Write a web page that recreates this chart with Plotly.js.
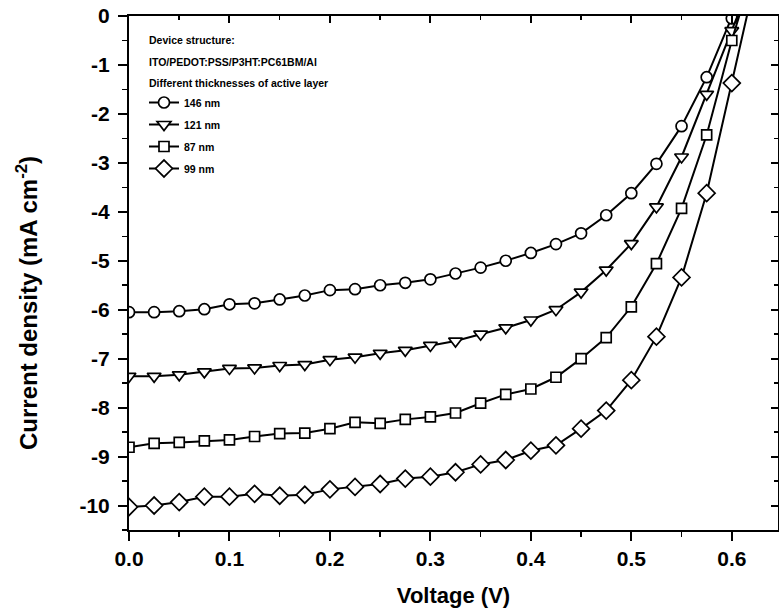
<!DOCTYPE html>
<html>
<head>
<meta charset="utf-8">
<script src="https://cdn.plot.ly/plotly-3.0.1.min.js"></script>
<style>html,body{margin:0;padding:0;background:#fff;}#chart{width:779px;height:614px;}</style>
</head>
<body>
<div id="chart"></div>
<script>
// Voltage (V)
const voltage = [0, 0.025, 0.05, 0.075, 0.1, 0.125, 0.15, 0.175, 0.2, 0.225, 0.25, 0.275, 0.3,
                 0.325, 0.35, 0.375, 0.4, 0.425, 0.45, 0.475, 0.5, 0.525, 0.55, 0.575, 0.6, 0.625];
// Current density (mA cm^-2)
const j146 = [-6.05, -6.05, -6.03, -5.99, -5.89, -5.87, -5.79, -5.71, -5.60, -5.58, -5.50, -5.45, -5.38,
              -5.26, -5.14, -5.00, -4.84, -4.66, -4.44, -4.07, -3.62, -3.02, -2.25, -1.25, -0.05, 1.2];
const j121 = [-7.36, -7.36, -7.33, -7.27, -7.20, -7.19, -7.14, -7.12, -7.02, -6.97, -6.89, -6.83, -6.73,
              -6.64, -6.50, -6.37, -6.21, -6.00, -5.64, -5.19, -4.65, -3.90, -2.88, -1.60, -0.30, 1.0];
const j87  = [-8.81, -8.73, -8.71, -8.68, -8.66, -8.59, -8.53, -8.52, -8.43, -8.30, -8.32, -8.24, -8.19,
              -8.11, -7.91, -7.73, -7.62, -7.38, -7.00, -6.57, -5.94, -5.06, -3.93, -2.43, -0.50, 1.2];
const j99  = [-10.03, -10.00, -9.93, -9.82, -9.82, -9.76, -9.80, -9.78, -9.67, -9.62, -9.56, -9.45, -9.41,
              -9.32, -9.16, -9.07, -8.88, -8.77, -8.43, -8.06, -7.44, -6.55, -5.34, -3.62, -1.37, 0.9];

const seriesNames = ["146 nm", "121 nm", "87 nm", "99 nm"];
const yTickVals = [0, -1, -2, -3, -4, -5, -6, -7, -8, -9, -10];
const yTickText = ["0", "-1", "-2", "-3", "-4", "-5", "-6", "-7", "-8", "-9", "-10"];
const xTickVals = [0, 0.1, 0.2, 0.3, 0.4, 0.5, 0.6];
const xTickText = ["0.0", "0.1", "0.2", "0.3", "0.4", "0.5", "0.6"];
const headerLines = ["Device structure:", "ITO/PEDOT:PSS/P3HT:PC61BM/Al", "Different thicknesses of active layer"];

const FONT = "Liberation Sans, Arial, Helvetica, sans-serif";
const symbols = ["circle", "triangle-down", "square", "diamond"];
const sizes = [11, 12, 10, 13];
const ys = [j146, j121, j87, j99];

const traces = ys.map((y, i) => ({
  x: voltage, y: y, name: seriesNames[i], type: "scatter", mode: "lines+markers",
  legendgroup: "g" + i,
  line: {color: "#000", width: 2},
  marker: {symbol: symbols[i], size: sizes[i], color: "#fff",
           line: {color: "#000", width: 1.7}}
}));
// empty trace that only makes the mirrored frame axes (top / right) exist
traces.push({x: [], y: [], xaxis: "x2", yaxis: "y2", type: "scatter", mode: "markers",
             showlegend: false, hoverinfo: "skip"});

const W = 779, H = 614, L = 129, R = 1, T = 16, B = 84;
const pw = W - L - R, ph = H - T - B;
const px2paperX = px => (px - L) / pw;
const px2paperY = py => 1 - (py - T) / ph;

const annotations = headerLines.map((t, i) => ({
  text: t, xref: "paper", yref: "paper", x: px2paperX(147), y: px2paperY([40, 62, 83][i]),
  xanchor: "left", yanchor: "middle", showarrow: false,
  font: {family: FONT, size: 10.5, color: "#000", weight: "bold"}
}));
annotations.push({
  text: "Current density (mA cm<sup>-2</sup>)", xref: "paper", yref: "paper",
  x: px2paperX(27), y: px2paperY(303), xanchor: "center", yanchor: "middle",
  textangle: -90, showarrow: false,
  font: {family: FONT, size: 24, color: "#000", weight: "bold"}
});

const tickFont = {family: FONT, size: 21, color: "#000", weight: "bold"};
const layout = {
  width: W, height: H,
  margin: {l: L, r: R, t: T, b: B, pad: 0},
  paper_bgcolor: "#fff", plot_bgcolor: "#fff",
  showlegend: true,
  legend: {x: px2paperX(144), y: px2paperY(88), xanchor: "left", yanchor: "top",
           bgcolor: "rgba(0,0,0,0)", borderwidth: 0, tracegroupgap: 3,
           font: {family: FONT, size: 10.5, color: "#000", weight: "bold"}},
  xaxis: {range: [0, 0.646], showline: true, linecolor: "#000", linewidth: 2, mirror: false,
          tickmode: "array", tickvals: xTickVals, ticktext: xTickText,
          ticks: "outside", ticklen: 9, tickwidth: 2, tickcolor: "#000",
          minor: {tickmode: "linear", tick0: 0, dtick: 0.05, ticks: "outside", ticklen: 5, tickwidth: 1.5, tickcolor: "#000"},
          showgrid: false, zeroline: false, tickfont: tickFont, ticklabelstandoff: 0,
          title: {text: "Voltage (V)", font: {family: FONT, size: 22, color: "#000", weight: "bold"}, standoff: 18}},
  yaxis: {range: [-10.5, 0], showline: true, linecolor: "#000", linewidth: 2, mirror: false,
          tickmode: "array", tickvals: yTickVals, ticktext: yTickText,
          ticks: "outside", ticklen: 9, tickwidth: 2, tickcolor: "#000",
          minor: {tickmode: "linear", tick0: 0, dtick: 0.5, ticks: "outside", ticklen: 5, tickwidth: 1.5, tickcolor: "#000"},
          showgrid: false, zeroline: false, tickfont: tickFont, ticklabelstandoff: 4},
  xaxis2: {overlaying: "x", side: "top", anchor: "y2", range: [0, 0.646], showline: true,
           linecolor: "#000", linewidth: 2, tickmode: "array", tickvals: xTickVals,
           ticks: "inside", ticklen: 7, tickwidth: 2, tickcolor: "#000", showticklabels: false,
           minor: {tickmode: "linear", tick0: 0, dtick: 0.05, ticks: "inside", ticklen: 4, tickwidth: 1.5, tickcolor: "#000"},
           showgrid: false, zeroline: false},
  yaxis2: {overlaying: "y", side: "right", anchor: "x2", range: [-10.5, 0], showline: true,
           linecolor: "#000", linewidth: 2, tickmode: "array", tickvals: yTickVals,
           ticks: "inside", ticklen: 7, tickwidth: 2, tickcolor: "#000", showticklabels: false,
           minor: {tickmode: "linear", tick0: 0, dtick: 0.5, ticks: "inside", ticklen: 4, tickwidth: 1.5, tickcolor: "#000"},
           showgrid: false, zeroline: false},
  annotations: annotations
};

Plotly.newPlot("chart", traces, layout, {staticPlot: true, displayModeBar: false});
</script>
</body>
</html>
